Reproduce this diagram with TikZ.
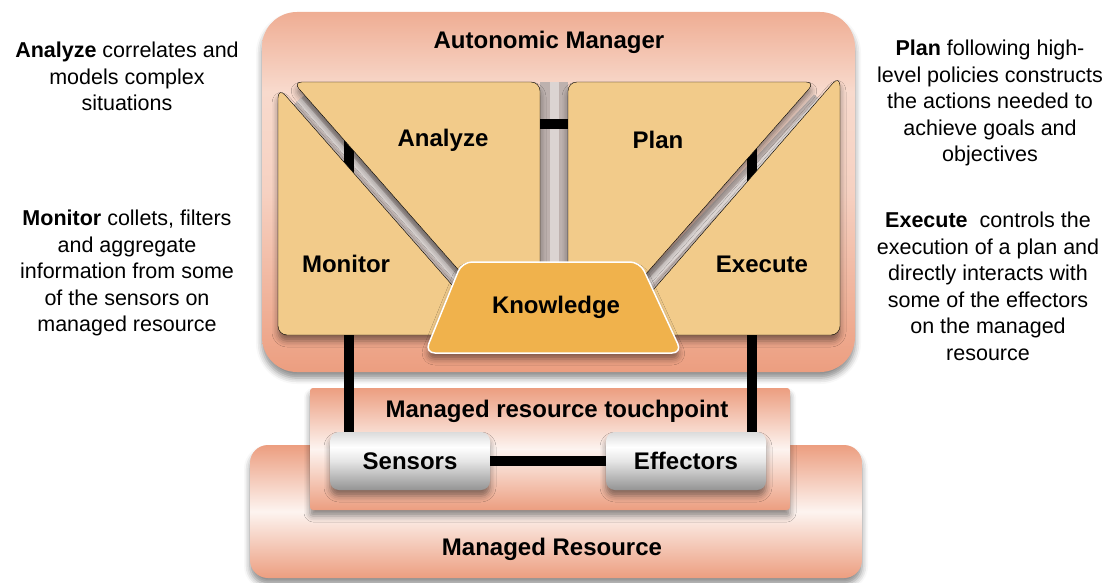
\documentclass[tikz,border=0pt]{standalone}
\usepackage{fontspec}
\setmainfont{Liberation Sans}
\usepackage{xcolor}
\usepackage{tikz}
\usetikzlibrary{shadows, shadows.blur, calc, backgrounds}

\definecolor{salmon}{HTML}{EC9E80}
\definecolor{salmonlight}{HTML}{F8DACD}
\definecolor{phasefill}{HTML}{F2CB8A}
\definecolor{knowfill}{HTML}{F0B24C}
\definecolor{channelgray}{HTML}{BDB1AE}

% sfumature verticali (dal basso verso l'alto)
\pgfdeclareverticalshading{amshade}{100bp}{color(0bp)=(salmon); color(25bp)=(salmon); color(50bp)=(salmonlight!85!salmon); color(64bp)=(salmonlight); color(75bp)=(salmon!75!salmonlight); color(100bp)=(salmon!75!salmonlight)}
\pgfdeclareverticalshading{glassy}{100bp}{color(0bp)=(black!42); color(25bp)=(black!42); color(50bp)=(black!10); color(62bp)=(white); color(75bp)=(black!14); color(100bp)=(black!14)}

\begin{document}
\begin{tikzpicture}[x=1pt,y=-1pt,
    soft/.style={blur shadow={shadow xshift=0pt,shadow yshift=-6pt,shadow blur radius=6pt,shadow opacity=45}},
    box/.style={soft,top color=salmon,bottom color=salmon,middle color=white!70!salmonlight},
    phase/.style={soft,fill=phasefill,rounded corners=9pt},
    channel/.style={line width=16pt,channelgray},
    channelhi/.style={line width=6pt,white!45!channelgray},
    link/.style={line width=10pt,black},
    glass/.style={soft,shading=glassy,rounded corners=9pt,minimum width=160pt,minimum height=58pt,lbl},
    lbl/.style={font=\fontsize{24}{28}\selectfont\bfseries},
    note/.style={font=\fontsize{21.5}{26.5}\selectfont,align=center}]
    \useasboundingbox (0,0) rectangle (1108,583);

    % Managed Resource e touchpoint
    \draw[box,draw=none,rounded corners=18pt] (250,445) rectangle (862,578);
    \node[lbl] (mres) at (552,549) {Managed Resource};
    \draw[box,draw=none,rounded corners=3pt] (310,388) rectangle (790,510);
    \node[lbl] (touch) at (557,411) {Managed resource touchpoint};

    % Autonomic Manager
    \draw[soft,shading=amshade,draw=none,rounded corners=35pt] (262,12) rectangle (855,372);
    \node[lbl] (am) at (549,42) {Autonomic Manager};

    % canali tra le fasi
    \draw[channel] (299,100) -- (475,300);
    \draw[channelhi] (299,100) -- (475,300);
    \draw[channel,line width=28pt] (554,82) -- (554,270);
    \draw[channelhi,line width=9pt] (554,82) -- (554,270);
    \draw[channel] (820,100) -- (633,300);
    \draw[channelhi] (820,100) -- (633,300);

    % collegamenti nascosti dietro le fasi
    \coordinate (mon-ana) at (349,205);
    \coordinate (ana-mon) at (349,115);
    \coordinate (pla-exe) at (752,120);
    \coordinate (exe-pla) at (752,210);
    \draw[link] (mon-ana) -- (ana-mon);
    \draw[link] (pla-exe) -- (exe-pla);

    % le quattro fasi
    \draw[phase] (278,200) -- (278,335) -- (496,335) [rounded corners=11pt] -- (278,87) -- cycle;
    \draw[phase] (293,82) -- (540,82) -- (540,300) -- (485,300) -- cycle;
    \draw[phase] (568,82) -- (815,82) -- (623,300) -- (568,300) -- cycle;
    \draw[phase] (840,200) -- (840,335) -- (614,335) [rounded corners=11pt] -- (840,75) -- cycle;
    \node[lbl] (monitor) at (346,264) {Monitor};
    \node[lbl] (analyze) at (443,140) {Analyze};
    \node[lbl] (plan) at (658,140) {Plan};
    \node[lbl] (execute) at (762,264) {Execute};

    % Analyze - Plan
    \coordinate (ana-pla) at (540,124);
    \coordinate (pla-ana) at (568,124);
    \draw[link] (ana-pla) -- (pla-ana);

    % Knowledge
    \draw[soft,fill=knowfill,draw=white,line width=1.5pt,rounded corners=10pt]
        (462,262) -- (640,262) -- (682,353) -- (425,353) -- cycle;
    \node[lbl] (knowledge) at (556,307) {Knowledge};

    % sensori ed effettori
    \node[glass] (sensors) at (410,461) {Sensors};
    \node[glass] (effectors) at (686,461) {Effectors};
    \coordinate (mon-bot) at (349,335);
    \coordinate (exe-bot) at (752,335);
    \draw[link] (mon-bot) -- (mon-bot |- sensors.north);
    \draw[link] (exe-bot) -- (exe-bot |- effectors.north);
    \draw[link] (sensors) -- (effectors);

    % note laterali
    \node[note] (note-ana) at (127,76.5) {\textbf{Analyze} correlates and\\models complex\\situations};
    \node[note] (note-mon) at (127,273) {\textbf{Monitor} collets, filters\\and aggregate\\information from some\\of the sensors on\\managed resource};
    \node[note] (note-pla) at (990,103) {\textbf{Plan} following high-\\level policies constructs\\the actions needed to\\achieve goals and\\objectives};
    \node[note] (note-exe) at (988,286.5) {\textbf{Execute}~ controls the\\execution of a plan and\\directly interacts with\\some of the effectors\\on the managed\\resource};
\end{tikzpicture}
\end{document}
